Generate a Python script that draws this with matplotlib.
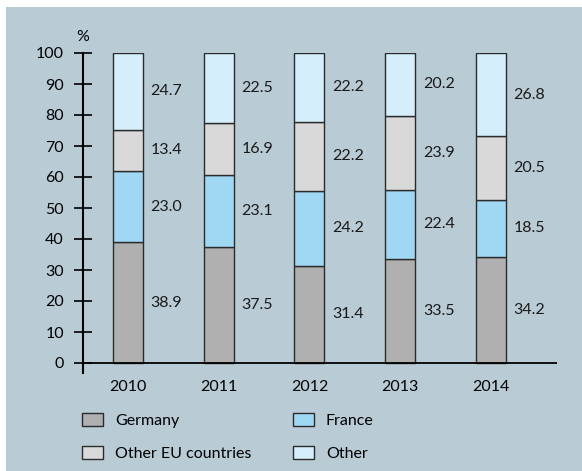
import matplotlib
matplotlib.use('Agg')
import matplotlib.pyplot as plt
from matplotlib.patches import Rectangle
import numpy as np

plt.rcParams['font.family'] = ['Lato', 'DejaVu Sans']

years = ['2010', '2011', '2012', '2013', '2014']
germany = [38.9, 37.5, 31.4, 33.5, 34.2]
france = [23.0, 23.1, 24.2, 22.4, 18.5]
other_eu = [13.4, 16.9, 22.2, 23.9, 20.5]
other = [24.7, 22.5, 22.2, 20.2, 26.8]

series = [('Germany', germany, '#b0b0b0'),
          ('France', france, '#a0d8f4'),
          ('Other EU countries', other_eu, '#d9d9d9'),
          ('Other', other, '#d4eefb')]

bg = '#b9cbd5'
fs = 11.5
W, H = 582, 471
fig = plt.figure(figsize=(W / 100, H / 100), dpi=100)
fig.patch.set_facecolor('white')
fig.patches.append(Rectangle((6 / W, 0), 1, (H - 7) / H, transform=fig.transFigure,
                             facecolor=bg, edgecolor='none', zorder=-10))

# axes: x 83..557 px, y0 at 363 px, y100 at 53 px
px_per_unit = (363 - 53) / 100
ymin = -10 / px_per_unit
ax_bottom = H - 363 - 10
ax = fig.add_axes([83 / W, ax_bottom / H, (557 - 83) / W, (363 + 10 - 53) / H])
ax.set_facecolor('none')

x = np.arange(len(years))
bottom = np.zeros(len(years))
handles = {}
for name, vals, color in series:
    vals = np.array(vals)
    b = ax.bar(x, vals, width=0.33, bottom=bottom, color=color,
               edgecolor='#2b2b2b', linewidth=1.0, label=name, zorder=3)
    handles[name] = b
    for xi, v, bt in zip(x, vals, bottom):
        ax.text(xi + 0.25, bt + v / 2, f'{v:.1f}', ha='left', va='center',
                fontsize=fs, color='#1a1a1a')
    bottom += vals

spacing = 90.7
ax.set_xlim(-45 / spacing, -45 / spacing + (557 - 83) / spacing)
ax.set_ylim(ymin, 100)
ax.axhline(0, color='black', linewidth=1.3, zorder=4)

for s in ['top', 'right', 'bottom']:
    ax.spines[s].set_visible(False)
ax.spines['left'].set_linewidth(1.5)
ax.spines['left'].set_bounds(ymin, 100)

ax.set_yticks(range(0, 101, 10))
ax.tick_params(axis='y', direction='inout', length=13.5, width=1.2, pad=7,
               labelsize=fs, colors='black')
ax.set_xticks(x)
ax.set_xticklabels(years)
ax.tick_params(axis='x', length=0, pad=5, labelsize=fs)

ax.text(0, 100 + 9 / px_per_unit, '%', transform=ax.get_yaxis_transform(),
        ha='center', va='bottom', fontsize=fs)

order = ['Germany', 'Other EU countries', 'France', 'Other']
fig.legend([handles[n] for n in order], order, ncol=2, loc='upper left',
           bbox_to_anchor=(68 / W, 1 - 399 / H), frameon=False, fontsize=fs,
           handlelength=1.3, handleheight=0.85, handletextpad=0.75,
           columnspacing=2.6, labelspacing=1.1)

fig.savefig('out.png', dpi=100, facecolor='white')
